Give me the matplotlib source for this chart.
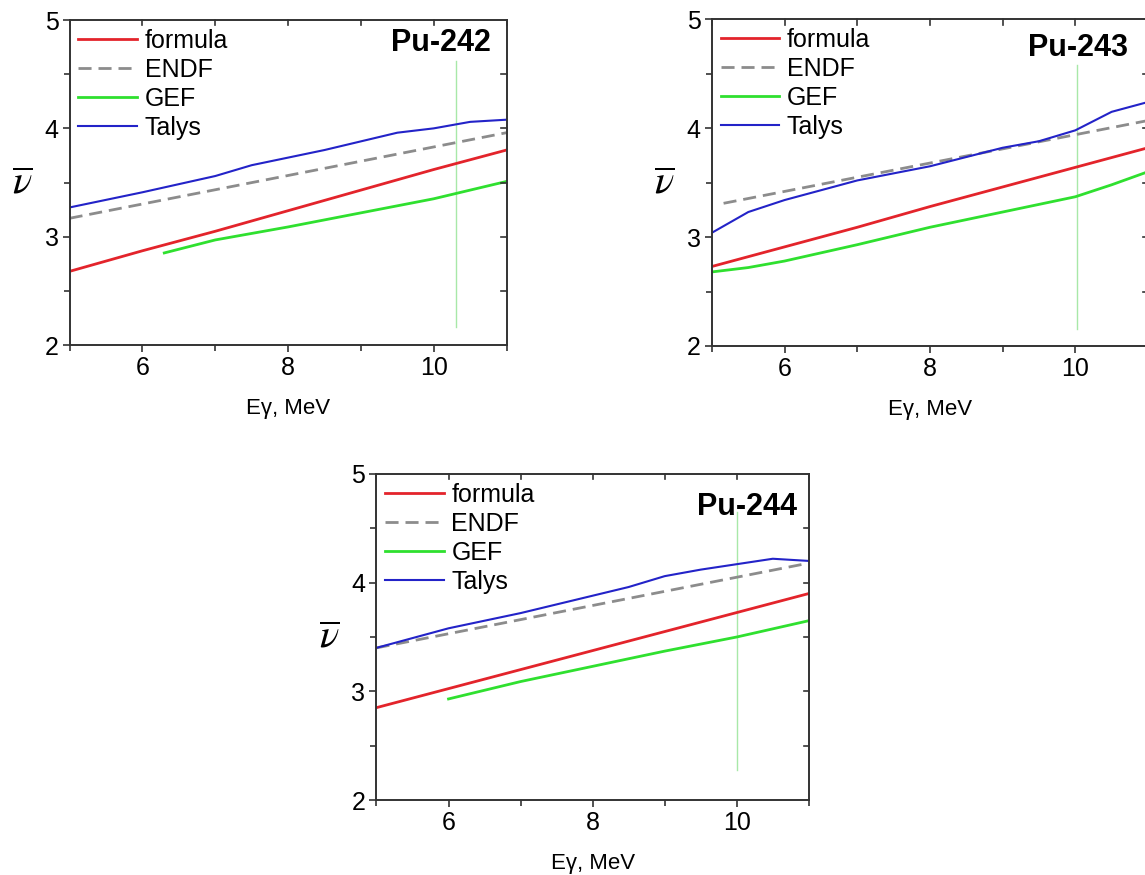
import numpy as np
import matplotlib
matplotlib.use("Agg")
import matplotlib.pyplot as plt
from matplotlib.ticker import MultipleLocator

plt.rcParams['font.family'] = ['Liberation Sans', 'DejaVu Sans']
plt.rcParams['mathtext.fontset'] = 'stix'

# ---- Pu-242 ----
x242_formula = [5, 6, 7, 8, 9, 10, 11]
y242_formula = [2.68, 2.87, 3.05, 3.24, 3.43, 3.62, 3.80]
x242_endf = [5, 11]
y242_endf = [3.17, 3.96]
x242_gef = [6.3, 7, 8, 9, 10, 10.5, 11]
y242_gef = [2.85, 2.97, 3.09, 3.22, 3.35, 3.43, 3.51]
x242_talys = [5, 6, 7, 7.5, 8, 8.5, 9, 9.5, 10, 10.5, 11]
y242_talys = [3.27, 3.41, 3.56, 3.66, 3.73, 3.80, 3.88, 3.96, 4.00, 4.06, 4.08]
vline242 = (10.31, 2.17, 4.62)

# ---- Pu-243 ----
x243_formula = [5, 6, 7, 8, 9, 10, 11]
y243_formula = [2.73, 2.91, 3.09, 3.28, 3.46, 3.64, 3.82]
x243_endf = [5.16, 11]
y243_endf = [3.31, 4.07]
x243_gef = [5, 5.5, 6, 7, 8, 9, 10, 10.5, 11]
y243_gef = [2.68, 2.72, 2.78, 2.93, 3.09, 3.23, 3.37, 3.48, 3.60]
x243_talys = [5, 5.5, 6, 7, 8, 9, 9.5, 10, 10.5, 11]
y243_talys = [3.04, 3.23, 3.34, 3.52, 3.65, 3.82, 3.88, 3.98, 4.15, 4.24]
vline243 = (10.02, 2.16, 4.58)

# ---- Pu-244 ----
x244_formula = [5, 6, 7, 8, 9, 10, 11]
y244_formula = [2.85, 3.025, 3.20, 3.375, 3.55, 3.725, 3.90]
x244_endf = [5, 11]
y244_endf = [3.40, 4.18]
x244_gef = [6, 7, 8, 9, 10, 11]
y244_gef = [2.93, 3.09, 3.23, 3.37, 3.50, 3.65]
x244_talys = [5, 6, 7, 8, 8.5, 9, 9.5, 10, 10.5, 11]
y244_talys = [3.40, 3.58, 3.72, 3.88, 3.96, 4.06, 4.12, 4.17, 4.22, 4.20]
vline244 = (10.01, 2.28, 4.65)

panels = [
    ("Pu-242", [0.0608, 0.6057, 0.3816, 0.3714], (10.78, 4.79),
     x242_formula, y242_formula, x242_endf, y242_endf, x242_gef, y242_gef, x242_talys, y242_talys, vline242),
    ("Pu-243", [0.6218, 0.6046, 0.3808, 0.3734], (10.72, 4.74),
     x243_formula, y243_formula, x243_endf, y243_endf, x243_gef, y243_gef, x243_talys, y243_talys, vline243),
    ("Pu-244", [0.3288, 0.0857, 0.3776, 0.3726], (10.84, 4.70),
     x244_formula, y244_formula, x244_endf, y244_endf, x244_gef, y244_gef, x244_talys, y244_talys, vline244),
]

fig = plt.figure(figsize=(11.45, 8.75), dpi=100)

for name, pos, txtpos, xf, yf, xe, ye, xg, yg, xt, yt, vl in panels:
    ax = fig.add_axes(pos)
    ax.plot([vl[0], vl[0]], [vl[1], vl[2]], color='#a8e8a8', lw=1.0)
    ax.plot(xf, yf, color='#e3242b', lw=2.0, label='formula')
    ax.plot(xe, ye, color='#8c8c8c', lw=2.0, ls=(0, (4.7, 2.5)), label='ENDF')
    ax.plot(xg, yg, color='#2fe02f', lw=2.0, label='GEF')
    ax.plot(xt, yt, color='#2323c8', lw=1.5, label='Talys')
    ax.set_xlim(5, 11)
    ax.set_ylim(2, 5)
    ax.xaxis.set_major_locator(MultipleLocator(2))
    ax.xaxis.set_minor_locator(MultipleLocator(1))
    ax.yaxis.set_major_locator(MultipleLocator(1))
    ax.yaxis.set_minor_locator(MultipleLocator(0.5))
    ax.tick_params(which='both', direction='out', top=False, right=False,
                   labelsize=18, width=1.2, color='#333333', pad=3)
    ax.tick_params(which='major', length=5)
    ax.tick_params(which='minor', length=4)
    # mirrored inward ticks on top/right
    for x in [5, 6, 7, 8, 9, 10, 11]:
        ax.plot([x, x], [5, 4.95], color='#333333', lw=1.2, clip_on=False)
    for y in [2.5, 3, 3.5, 4, 4.5]:
        ax.plot([11, 10.93], [y, y], color='#333333', lw=1.2, clip_on=False)
    for s in ax.spines.values():
        s.set_linewidth(1.4)
        s.set_color('#333333')
    ax.set_xlabel('Eγ, MeV', fontsize=16, labelpad=13)
    ax.set_ylabel(r'$\overline{\nu}$', fontsize=29, rotation=0, labelpad=16, va='center')
    ax.text(txtpos[0], txtpos[1], name, fontsize=22, fontweight='bold',
            ha='right', va='center')
    ax.legend(loc='upper left', frameon=False, fontsize=18,
              handlelength=2.35, handletextpad=0.3, labelspacing=0.2,
              borderpad=0.15, borderaxespad=0.2)

fig.savefig('out.png', dpi=100)
